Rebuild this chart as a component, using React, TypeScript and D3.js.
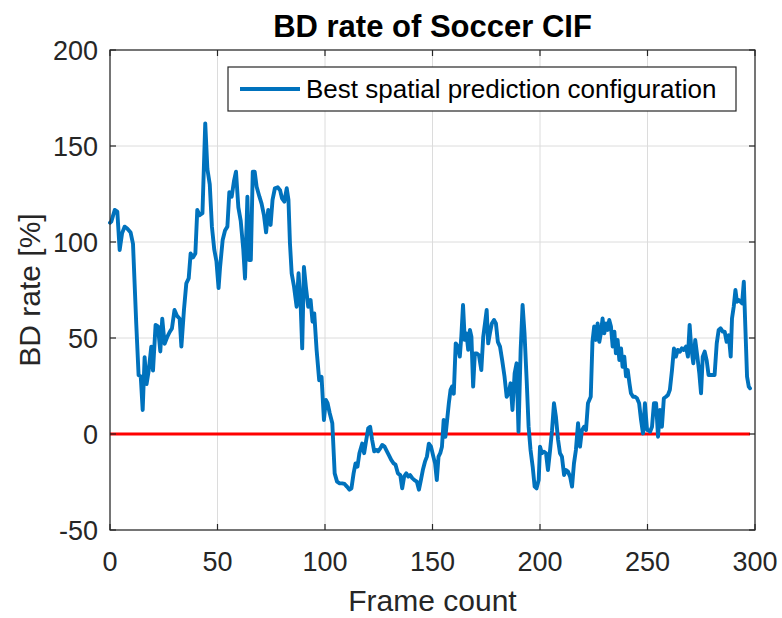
import React from "react";
import * as d3 from "d3";

const title = "BD rate of Soccer CIF";
const xLabel = "Frame count";
const yLabel = "BD rate [%]";
const legendLabel = "Best spatial prediction configuration";
const xTicks = [0, 50, 100, 150, 200, 250, 300];
const yTicks = [-50, 0, 50, 100, 150, 200];

const frames = [
  0, 0.6, 2.2, 3.4, 4.5, 5.6, 6.8, 8, 9.6, 10.7, 12.2, 13.3, 14.3, 15.2, 16.1, 17, 18, 19.2, 20, 21.2,
  22.3, 23.4, 24.3, 25.4, 26.7, 27.7, 28.8, 30, 31.2, 32.4, 33.2, 34.4, 35.5, 36.6, 37.5, 38.6, 39.7, 40.6, 41.7, 43,
  44.3, 45.3, 46.4, 47.4, 48.5, 49.5, 50.5, 51.2, 52.4, 53.5, 54.6, 55.5, 56.6, 57.7, 58.6, 59.7, 60.8, 62, 62.8, 63.9,
  64.7, 65.5, 66.4, 67.3, 68.2, 69.5, 70.5, 71.6, 72.6, 73.6, 74.7, 75.6, 76.7, 78, 79.1, 80, 81.1, 82.2, 83, 83.7,
  84.5, 85.6, 86.8, 87.7, 88.7, 89.4, 90.2, 91.1, 92.2, 93.3, 94.2, 95, 96.1, 97.3, 98.4, 99.5, 100.4, 101.2, 102.2, 103.4,
  104.5, 105.6, 106.8, 108, 109.1, 110.2, 111.4, 112.3, 113.3, 114.2, 115.1, 116, 117.3, 118.2, 119.2, 120.1, 121, 121.9, 122.9, 123.8,
  124.7, 125.7, 126.6, 127.7, 128.8, 129.7, 130.8, 131.9, 132.8, 133.9, 135, 135.9, 136.8, 137.8, 138.7, 139.6, 140.6, 141.6, 142.7, 143.7,
  144.6, 145.5, 146.5, 147.4, 148.3, 149.3, 150.4, 151.2, 152, 152.8, 153.6, 154.4, 155.2, 156, 156.8, 157.6, 158.4, 159.1, 159.9, 160.8,
  161.8, 162.7, 163.4, 164.2, 165, 165.8, 166.6, 167.4, 168.1, 168.9, 169.7, 170.5, 171.6, 172.7, 173.6, 174.4, 175.2, 175.9, 176.7, 177.6,
  178.6, 179.5, 180.4, 181.4, 182.4, 183.5, 184.5, 185.4, 186.3, 187.2, 188.2, 189.1, 190, 191, 191.9, 192.8, 193.8, 194.7, 195.6, 196.6,
  197.5, 198.4, 199.4, 200, 200.9, 201.9, 202.8, 203.7, 204.7, 205.6, 206.5, 207.4, 208.4, 209.3, 210.2, 211.2, 212.1, 213, 214, 214.9,
  215.8, 216.7, 217.7, 218.6, 219.5, 220.5, 221.4, 222.3, 223.6, 224.4, 225.2, 226, 226.8, 227.6, 228.3, 229.1, 229.9, 230.7, 231.5, 232.2,
  233, 233.8, 234.6, 235.3, 236.1, 236.9, 237.7, 238.4, 239.2, 240, 240.8, 241.6, 242.3, 243.3, 244.2, 245.1, 246.1, 247, 247.9, 248.8,
  249.8, 250.6, 251.2, 252.1, 253, 254, 254.9, 255.8, 256.7, 257.6, 258.6, 259.5, 260.4, 261.4, 262.3, 263.2, 264.1, 265.1, 266, 266.9,
  267.9, 268.8, 269.6, 270.3, 271.3, 272.2, 273.2, 274.1, 274.9, 275.7, 276.6, 277.5, 278.4, 279.4, 280.3, 281.2, 282.2, 283.1, 284, 285,
  285.9, 286.8, 287.8, 288.7, 289.3, 290.1, 290.9, 291.6, 292.4, 293.2, 294, 294.8, 295.5, 296.3, 297.1, 297.7,
];

const bdRate = [
  110, 110.6, 116.7, 115.8, 95.8, 104.5, 108, 107, 104.9, 99, 57.6, 30.7, 30, 12.5, 40, 26, 33, 45.5, 33, 56.8,
  56, 43, 60, 47, 50.7, 53, 55, 64.6, 61.5, 60, 45.5, 64.6, 78.5, 81, 94, 92, 94, 116.7, 114, 115,
  161.8, 138, 130, 108, 96, 90, 76, 87, 101, 106, 108, 126, 123.6, 132, 136.6, 118, 111, 96, 81, 123.6,
  90.6, 90.6, 136.6, 136.6, 128.8, 123.6, 120, 114, 105, 116.7, 108.9, 121.9, 128, 128.5, 127, 122.7, 121, 128, 122, 99.3,
  83.7, 76.7, 66.3, 83.7, 66.3, 44.6, 87, 76.7, 66.3, 69.8, 58.5, 62.8, 43.7, 28, 29.8, 7.3, 17.7, 16, 10.8, 5.6,
  -20.5, -24.8, -25.7, -25.7, -26, -27.4, -29, -28.3, -20.5, -15.3, -17, -10, -5, -10, -3, 3, 3.8, -3, -9, -8.3,
  -9, -7.5, -5.7, -6.6, -9, -11, -13.5, -15.3, -16, -20.5, -21.4, -28.3, -22.2, -20.5, -22.2, -21.4, -23, -24, -24.8, -29,
  -24, -18.8, -14.4, -11.8, -5, -6.6, -11.8, -15.3, -24, -11.8, -10, -6.6, 7.3, -1.4, 7.3, 16, 23, 24.7, 21, 47.2,
  45.5, 40.3, 50.7, 67.2, 49, 52.4, 43.8, 54.2, 50.7, 24.7, 42, 42, 41, 33.3, 50.7, 57.6, 64.6, 47.2, 52.4, 57.6,
  59.4, 57.6, 48, 45.5, 38.5, 29.9, 19.4, 21.2, 26.4, 12.5, 31.6, 36.8, 1.2, 43.8, 67.2, 52.4, 28, 3.8, -8.3, -17,
  -27.4, -28.3, -24, -6.6, -10, -9.2, -10, -18.8, -8.3, 2, 16, 9, -3, -10, -11.8, -21.4, -18.8, -19.6, -22.2, -27.4,
  -15.3, -8.3, 5.6, -6.6, 2, 3.8, 2, 16, 19.4, 48, 56, 49, 57.6, 48, 52.4, 60.2, 52.4, 57.6, 54.2, 59.4,
  56, 45.5, 53.3, 42, 49, 38.5, 44.6, 35, 40.3, 30, 33.3, 26.4, 21.2, 19.4, 19.4, 18.6, 16, 7.3, 0.3, 16,
  2, 2, 1.2, 3.8, 16, 16, -1.4, 12.5, 3.8, 18.6, 19.4, 20.3, 23, 33.3, 44.6, 40.3, 43.8, 42.9, 44.6, 43.8,
  45.5, 40.3, 56.8, 45.5, 36.8, 49, 40.3, 31.6, 21.2, 40.3, 42.9, 38.5, 30.7, 30.7, 30.7, 30.7, 47.2, 54.2, 55, 53.3,
  53.3, 48, 51.4, 40.3, 60.2, 66.3, 75, 68.9, 69.8, 68.9, 68, 79.3, 55.9, 29.9, 24.7, 23.8,
];

const referenceLevel = [0, 0];
const referenceFrames = [0, 297.7];

const W = 782;
const H = 618;
const M = { left: 110, right: 755, top: 50, bottom: 530 };
const FONT = "'Liberation Sans', Arial, Helvetica, sans-serif";
const AX = "#262626";

export default function App() {
  const x = d3.scaleLinear().domain([0, 300]).range([M.left, M.right]);
  const y = d3.scaleLinear().domain([-50, 200]).range([M.bottom, M.top]);
  const pts = frames.map((f, i) => [f, bdRate[i]] as [number, number]);
  const line = d3
    .line<[number, number]>()
    .x((d) => x(d[0]))
    .y((d) => y(d[1]));
  const refPts = referenceFrames.map((f, i) => [f, referenceLevel[i]] as [number, number]);
  const tickLen = 6;

  return (
    <svg
      width={W}
      height={H}
      style={{ position: "absolute", left: 0, top: 0, background: "#fff" }}
      fontFamily={FONT}
    >
      <rect x={0} y={0} width={W} height={H} fill="#fff" />
      {xTicks.map((t) => (
        <line key={"gx" + t} x1={x(t)} x2={x(t)} y1={M.top} y2={M.bottom} stroke="#dcdcdc" strokeWidth={1} />
      ))}
      {yTicks.map((t) => (
        <line key={"gy" + t} x1={M.left} x2={M.right} y1={y(t)} y2={y(t)} stroke="#dcdcdc" strokeWidth={1} />
      ))}
      <path d={line(refPts) || ""} fill="none" stroke="#FF0000" strokeWidth={3.2} />
      <path
        d={line(pts) || ""}
        fill="none"
        stroke="#0072BD"
        strokeWidth={3.9}
        strokeLinejoin="round"
        strokeLinecap="round"
      />
      <rect
        x={M.left}
        y={M.top}
        width={M.right - M.left}
        height={M.bottom - M.top}
        fill="none"
        stroke={AX}
        strokeWidth={1.2}
      />
      {xTicks.map((t) => (
        <g key={"tx" + t}>
          <line x1={x(t)} x2={x(t)} y1={M.bottom} y2={M.bottom - tickLen} stroke={AX} strokeWidth={1.2} />
          <line x1={x(t)} x2={x(t)} y1={M.top} y2={M.top + tickLen} stroke={AX} strokeWidth={1.2} />
          <text x={x(t)} y={M.bottom + 41} textAnchor="middle" fontSize={27} fill={AX}>
            {t}
          </text>
        </g>
      ))}
      {yTicks.map((t) => (
        <g key={"ty" + t}>
          <line x1={M.left} x2={M.left + tickLen} y1={y(t)} y2={y(t)} stroke={AX} strokeWidth={1.2} />
          <line x1={M.right} x2={M.right - tickLen} y1={y(t)} y2={y(t)} stroke={AX} strokeWidth={1.2} />
          <text x={M.left - 12} y={y(t) + 9.5} textAnchor="end" fontSize={27} fill={AX}>
            {t}
          </text>
        </g>
      ))}
      <text x={(M.left + M.right) / 2} y={611} textAnchor="middle" fontSize={30} fill={AX}>
        {xLabel}
      </text>
      <text
        transform={`translate(40, ${(M.top + M.bottom) / 2}) rotate(-90)`}
        textAnchor="middle"
        fontSize={30}
        fill={AX}
      >
        {yLabel}
      </text>
      <text x={(M.left + M.right) / 2} y={37} textAnchor="middle" fontSize={31} fontWeight="bold" fill="#000">
        {title}
      </text>
      <rect x={228} y={67} width={508} height={44} fill="#fff" stroke={AX} strokeWidth={1.2} />
      <line x1={240} x2={300} y1={89} y2={89} stroke="#0072BD" strokeWidth={3.9} />
      <text x={306} y={98} fontSize={26} fill="#000">
        {legendLabel}
      </text>
    </svg>
  );
}
